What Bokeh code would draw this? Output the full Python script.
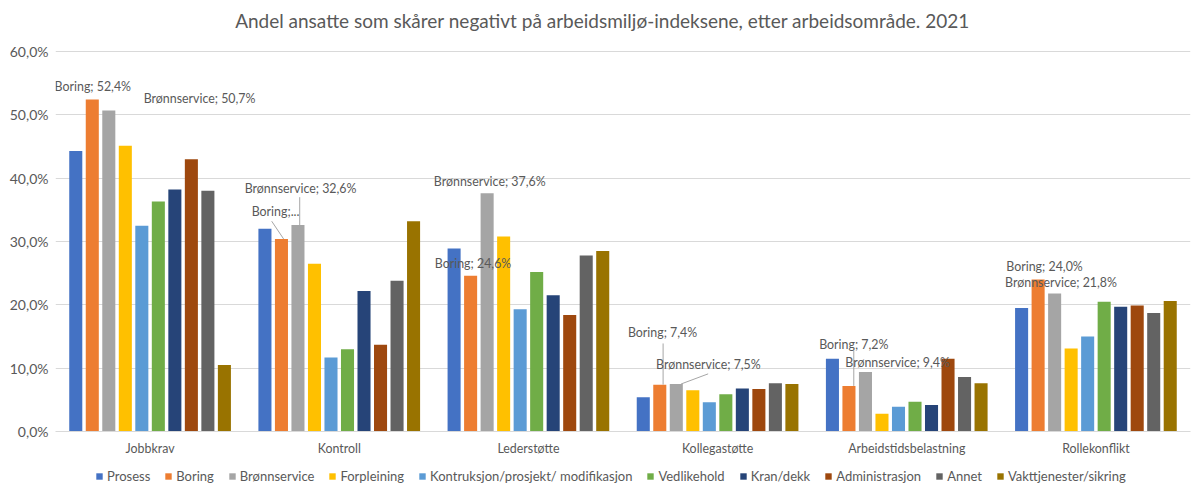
from bokeh.plotting import figure
from bokeh.layouts import column
from bokeh.models import (ColumnDataSource, Legend, LegendItem, FixedTicker,
                          CustomJSTickFormatter, Label)
from bokeh.transform import dodge
from bokeh.embed import file_html
from bokeh.resources import INLINE

title_text = "Andel ansatte som skårer negativt på arbeidsmiljø-indeksene,  etter arbeidsområde. 2021"
categories = ["Jobbkrav", "Kontroll", "Lederstøtte", "Kollegastøtte",
              "Arbeidstidsbelastning", "Rollekonflikt"]
series = ["Prosess", "Boring", "Brønnservice", "Forpleining",
          "Kontruksjon/prosjekt/ modifikasjon", "Vedlikehold", "Kran/dekk",
          "Administrasjon", "Annet", "Vakttjenester/sikring"]
prosess = [44.3, 32.0, 28.9, 5.4, 11.5, 19.5]
boring = [52.4, 30.4, 24.6, 7.4, 7.2, 24.0]
bronnservice = [50.7, 32.6, 37.6, 7.5, 9.4, 21.8]
forpleining = [45.1, 26.5, 30.8, 6.5, 2.8, 13.1]
kontruksjon = [32.5, 11.7, 19.3, 4.6, 3.9, 15.0]
vedlikehold = [36.3, 13.0, 25.2, 5.9, 4.7, 20.5]
kran = [38.2, 22.2, 21.5, 6.8, 4.2, 19.7]
administrasjon = [43.0, 13.7, 18.4, 6.7, 11.5, 19.9]
annet = [38.0, 23.8, 27.8, 7.6, 8.6, 18.7]
vakt = [10.5, 33.2, 28.5, 7.5, 7.6, 20.6]
values = [prosess, boring, bronnservice, forpleining, kontruksjon,
          vedlikehold, kran, administrasjon, annet, vakt]
colors = ["#4472C4", "#ED7D31", "#A5A5A5", "#FFC000", "#5B9BD5",
          "#70AD47", "#264478", "#9E480E", "#636363", "#997300"]
y_ticks = [0, 10, 20, 30, 40, 50, 60]

FONT = "Lato"
GRAY = "#595959"

# frame spans the full top of the canvas; grid/ticks stop at 60 %
p = figure(x_range=categories, y_range=(0, 68.05), width=1192, height=466,
           output_backend="svg", toolbar_location=None,
           min_border_left=55, min_border_right=2, min_border_top=0,
           min_border_bottom=35)
p.outline_line_color = None
p.background_fill_color = "white"
p.border_fill_color = "white"

p.add_layout(Label(x=2.905, y=64.9, text=title_text, text_font=FONT,
                   text_font_size="19px", text_color=GRAY,
                   text_align="center", text_baseline="middle"))

data = {"cat": categories}
for i, v in enumerate(values):
    data["s%d" % i] = v
src = ColumnDataSource(data)

pitch = 0.0873
for i, col in enumerate(colors):
    off = (i - 4.5) * pitch
    p.vbar(x=dodge("cat", off, range=p.x_range), top="s%d" % i,
           width=0.069, source=src, fill_color=col, line_color=None)

# axes
p.yaxis.ticker = FixedTicker(ticks=y_ticks)
p.yaxis.formatter = CustomJSTickFormatter(
    code="return tick.toFixed(1).replace('.', ',') + '%';")
p.yaxis.axis_line_color = None
p.yaxis.major_tick_line_color = None
p.yaxis.minor_tick_line_color = None
p.yaxis.major_label_text_font = FONT
p.yaxis.major_label_text_font_size = "14px"
p.yaxis.major_label_text_color = GRAY
p.yaxis.major_label_standoff = 1

p.xaxis.axis_line_color = "#D9D9D9"
p.xaxis.major_tick_line_color = None
p.xaxis.minor_tick_line_color = None
p.xaxis.major_label_text_font = FONT
p.xaxis.major_label_text_font_size = "12.4px"
p.xaxis.major_label_text_color = GRAY
p.xaxis.major_label_standoff = 3

p.xgrid.grid_line_color = None
p.ygrid.grid_line_color = "#D9D9D9"
p.ygrid.ticker = FixedTicker(ticks=y_ticks)

# data labels (text, x position in category units, y position in %)
label_specs = [
    ("Boring; 52,4%", -0.005, 54.5),
    ("Brønnservice; 50,7%", 0.466, 52.6),
    ("Brønnservice; 32,6%", 1.0, 38.4),
    ("Boring;...", 1.037, 34.8),
    ("Brønnservice; 37,6%", 2.0, 39.5),
    ("Boring; 24,6%", 2.005, 26.6),
    ("Boring; 7,4%", 3.026, 15.6),
    ("Brønnservice; 7,5%", 3.175, 10.6),
    ("Boring; 7,2%", 4.037, 13.7),
    ("Brønnservice; 9,4%", 4.175, 10.9),
    ("Boring; 24,0%", 5.026, 26.0),
    ("Brønnservice; 21,8%", 5.02, 23.6),
]
for txt, lx, ly in label_specs:
    p.add_layout(Label(x=lx, y=ly, text=txt, text_font=FONT,
                       text_font_size="12.4px", text_color=GRAY,
                       text_align="left", text_baseline="middle"))

# leader lines
leaders_x0 = [1.143, 1.291, 3.212, 3.45, 4.22]
leaders_y0 = [33.2, 37.0, 13.9, 9.1, 12.8]
leaders_x1 = [1.206, 1.291, 3.212, 3.307, 4.22]
leaders_y1 = [30.4, 32.6, 7.4, 7.5, 7.2]
p.segment(x0=leaders_x0, y0=leaders_y0, x1=leaders_x1, y1=leaders_y1,
          line_color="#A6A6A6", line_width=1)

# legend strip
leg = figure(width=1192, height=18, output_backend="svg",
             toolbar_location=None, x_range=(0, 1), y_range=(0, 1),
             min_border=0, x_axis_location=None, y_axis_location=None)
leg.grid.visible = False
leg.outline_line_color = None
items = []
for name, col in zip(series, colors):
    r = leg.vbar(x=[-10], top=[-10], width=0.1, fill_color=col,
                 line_color=None)
    items.append(LegendItem(label=name, renderers=[r]))
legend = Legend(items=items, orientation="horizontal", location=(40, 0),
                glyph_width=8, glyph_height=8, label_standoff=4, spacing=14,
                label_text_font=FONT, label_text_font_size="13px",
                label_text_color=GRAY, border_line_color=None,
                background_fill_alpha=0, padding=1, margin=0,
                label_height=14)
leg.add_layout(legend, "center")

layout = column(p, leg, spacing=0)
open("out.html", "w").write(file_html(layout, INLINE))
